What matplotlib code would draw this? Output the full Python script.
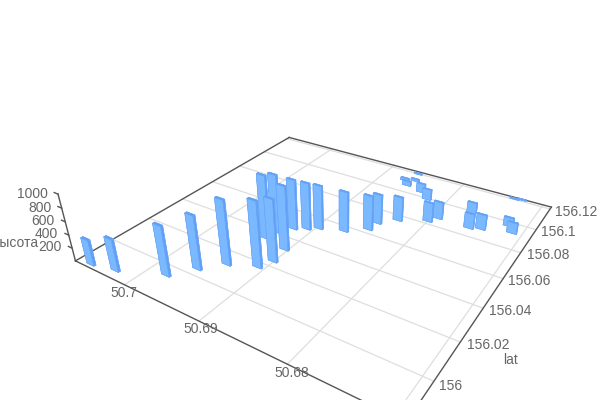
import numpy as np
import matplotlib
matplotlib.use("Agg")
import matplotlib.pyplot as plt

plt.rcParams['font.family'] = ['Liberation Sans', 'DejaVu Sans']

lat = [155.9840, 155.9864, 155.9946, 156.0039, 156.0122, 156.0172, 156.0234, 156.0348,
       156.0411, 156.0323, 156.0468, 156.0497, 156.0527, 156.0566, 156.0631, 156.0695,
       156.0762, 156.0823, 156.0868, 156.1106, 156.1066, 156.1126, 156.1041, 156.0994,
       156.1198, 156.0991, 156.0865, 156.0884, 156.0968, 156.0923, 156.1206, 156.1215]
lon = [50.7057, 50.7027, 50.6977, 50.6958, 50.6938, 50.6908, 50.6901, 50.6935,
       50.6934, 50.6904, 50.6921, 50.6908, 50.6897, 50.6870, 50.6849, 50.6847,
       50.6830, 50.6800, 50.6793, 50.6868, 50.6860, 50.6856, 50.6837, 50.6823,
       50.6861, 50.6765, 50.6755, 50.6743, 50.6719, 50.6711, 50.6733, 50.6725]
height = [392, 493, 753, 816, 976, 995, 945, 983,
          903, 977, 786, 735, 689, 630, 543, 470,
          385, 309, 271, 42, 77, 36, 148, 174,
          15, 169, 236, 235, 139, 169, 10, 9]

lat_ticks = [156, 156.02, 156.04, 156.06, 156.08, 156.1, 156.12]
lon_ticks = [50.67, 50.68, 50.69, 50.7]
height_ticks = [200, 400, 600, 800, 1000]

lat_range = (155.982, 156.122)
lon_range = (50.669, 50.7076)
height_range = (0, 1000)

GRID = '#dedede'
AXIS = '#555555'
TEXT = '#666666'
FACE_WIDE = '#7ab8ff'
FACE_NARROW = '#5f9ff5'
FACE_TOP = '#5e9ef5'
EDGE = '#6aa6f7'

fig = plt.figure(figsize=(6, 4), dpi=100, facecolor='white')
side = 487.9
ax = fig.add_axes([77.25 / 600, -51.76 / 400, side / 600, side / 400], projection='3d')
ax.computed_zorder = False
ax.set_xlim(*lat_range)
ax.set_ylim(*lon_range)
ax.set_zlim(*height_range)
ax.set_box_aspect((1.0006, 1.028, 0.2126))
ax.set_proj_type('persp', focal_length=0.2332)
ax.view_init(elev=29.6517, azim=-146.2671, roll=0.7479)
ax.set_axis_off()

# floor grid
for t in lat_ticks:
    ax.plot([t, t], lon_range, [0, 0], color=GRID, lw=0.9, zorder=1, clip_on=False)
for t in lon_ticks:
    ax.plot(lat_range, [t, t], [0, 0], color=GRID, lw=0.9, zorder=1, clip_on=False)

# box edges on the floor and the height axis
lat0, lat1 = lat_range
lon0, lon1 = lon_range
for xs, ys, zs in [([lat0, lat1], [lon1, lon1], [0, 0]),
                   ([lat1, lat1], [lon1, lon0], [0, 0]),
                   ([lat0, lat0], [lon1, lon0], [0, 0]),
                   ([lat0, lat1], [lon0, lon0], [0, 0]),
                   ([lat0, lat0], [lon1, lon1], height_range)]:
    ax.plot(xs, ys, zs, color=AXIS, lw=1, zorder=2, clip_on=False)
for t in height_ticks:
    ax.plot([lat0, lat0], [lon1, lon1 + 0.0006], [t, t], color=AXIS, lw=1, zorder=2, clip_on=False)

# bars
dlat, dlon = 0.001, 0.0011
lat_arr = np.array(lat)
lon_arr = np.array(lon)
colors = [FACE_TOP, FACE_TOP, FACE_NARROW, FACE_NARROW, FACE_WIDE, FACE_WIDE] * len(lat)
ax.bar3d(lat_arr - dlat / 2, lon_arr - dlon / 2, np.zeros(len(lat)), dlat, dlon, height,
         color=colors, edgecolor=EDGE, linewidth=0.4, shade=False, zorder=3)


def label(x, y, s, **kw):
    fig.text(x / 600, 1 - y / 400, s, color=TEXT, fontsize=10, va='center', **kw)


for t, x, y in zip(['156', '156.02', '156.04', '156.06', '156.08', '156.1', '156.12'],
                   [439, 467, 489, 508, 527, 541, 555],
                   [386, 345, 311, 281, 255, 232, 212]):
    label(x, y, t, ha='left')
for t, x, y in zip(['50.68', '50.69', '50.7'], [292, 201, 124], [373, 329, 293]):
    label(x, y, t, ha='center')
for t, x, y in zip(['200', '400', '600', '800', '1000'],
                   [62, 58, 55, 52, 48], [247, 234, 221, 208, 194]):
    label(x, y, t, ha='right')
label(511, 360, 'lat', ha='center')
label(15, 243, 'высота', ha='center')

fig.savefig('out.png', dpi=100)
